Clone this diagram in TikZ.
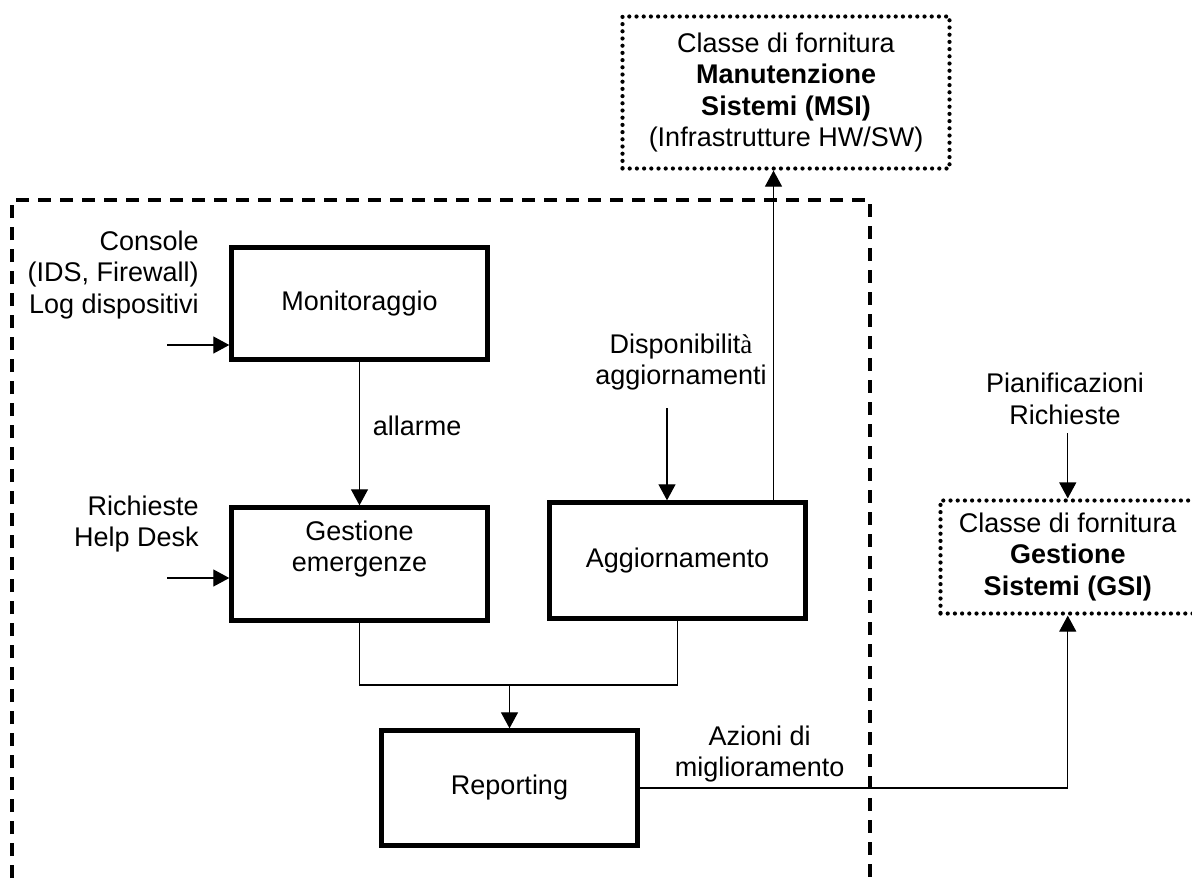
\documentclass[tikz,border=0pt]{standalone}
\usepackage{fontspec}
\setmainfont{Liberation Sans}
\newfontfamily\serifaccent{Liberation Serif}
\usetikzlibrary{arrows.meta,positioning}

\tikzset{
	blok/.style={shape=rectangle, draw, line width=2.2pt, minimum width=128pt, minimum height=57.5pt, align=center},
	classe/.style={shape=rectangle, draw, line width=2.1pt, dash pattern=on 0pt off 3.6pt, line cap=round, align=center, inner sep=0pt},
	tag/.style={align=center},
	freccia/.style={line width=0.6pt, -{Triangle[length=8pt,width=8.5pt]}},
	filo/.style={line width=0.6pt}
}

\begin{document}
\begin{tikzpicture}[x=0.5pt, y=-0.5pt, font=\fontsize{13.5}{15.75}\selectfont]
	\clip (0,0) rectangle (1192,879);
	% confine del servizio
	\draw[line width=1.9pt, dash pattern=on 6.5pt off 4.5pt] (12,900) -- (12,200) -- (870,200) -- (870,900);

	\path (786,92.5) node (msi) [classe, minimum width=163.5pt, minimum height=76pt] {Classe di fornitura\\\textbf{Manutenzione}\\\textbf{Sistemi (MSI)}\\(Infrastrutture HW/SW)}
		  (1067.75,557) node (gsi) [classe, minimum width=127.25pt, minimum height=56.5pt] {Classe di fornitura\\\textbf{Gestione}\\\textbf{Sistemi (GSI)}};

	\path (359.5,303.5) node (mon) [blok, minimum height=56pt] {Monitoraggio}
		  (359.5,564) node (ges) [blok, minimum height=56.5pt] {}
		  (677.5,560.5) node (agg) [blok, minimum height=58pt] {Aggiornamento}
		  (509.5,788) node (rep) [blok] {Reporting};
	\path (359.5,549) node (gestxt) [tag] {Gestione\\emergenze};

	\path (199,275) node (console) [tag, anchor=east, align=right, inner sep=0pt] {Console\\(IDS, Firewall)\\Log dispositivi}
		  (199,524) node (helpdesk) [tag, anchor=east, align=right, inner sep=0pt] {Richieste\\Help Desk}
		  (681,362) node (disp) [tag] {Disponibilit{\serifaccent à}\\aggiornamenti}
		  (1065,399) node (pian) [tag] {Pianificazioni\\Richieste};

	\coordinate (consin) at (167,345);
	\coordinate (deskin) at (167,578);
	\coordinate (dispin) at (667,408);
	\coordinate (pianin) at (1067.75,433);
	\coordinate (unione) at (509.5,685);

	\draw[freccia] (consin) -- (consin -| mon.west);
	\draw[freccia] (deskin) -- (deskin -| ges.west);
	\draw[freccia] (mon) -- node[pos=0.45, right=3pt] {allarme} (ges);
	\draw[freccia] (dispin) -- (dispin |- agg.north);
	\draw[freccia] ([xshift=48pt]agg.north) -- ([xshift=48pt]agg.north |- msi.south);
	\draw[filo] (ges.south) |- (unione);
	\draw[filo] (agg.south) |- (unione);
	\draw[freccia] (unione) -- (rep.north);
	\draw[freccia] (rep.east) -| node[tag, pos=0.14, above, inner sep=2.5pt] {Azioni di\\miglioramento} (gsi.south);
	\draw[freccia] (pianin) -- (gsi.north);
\end{tikzpicture}
\end{document}
